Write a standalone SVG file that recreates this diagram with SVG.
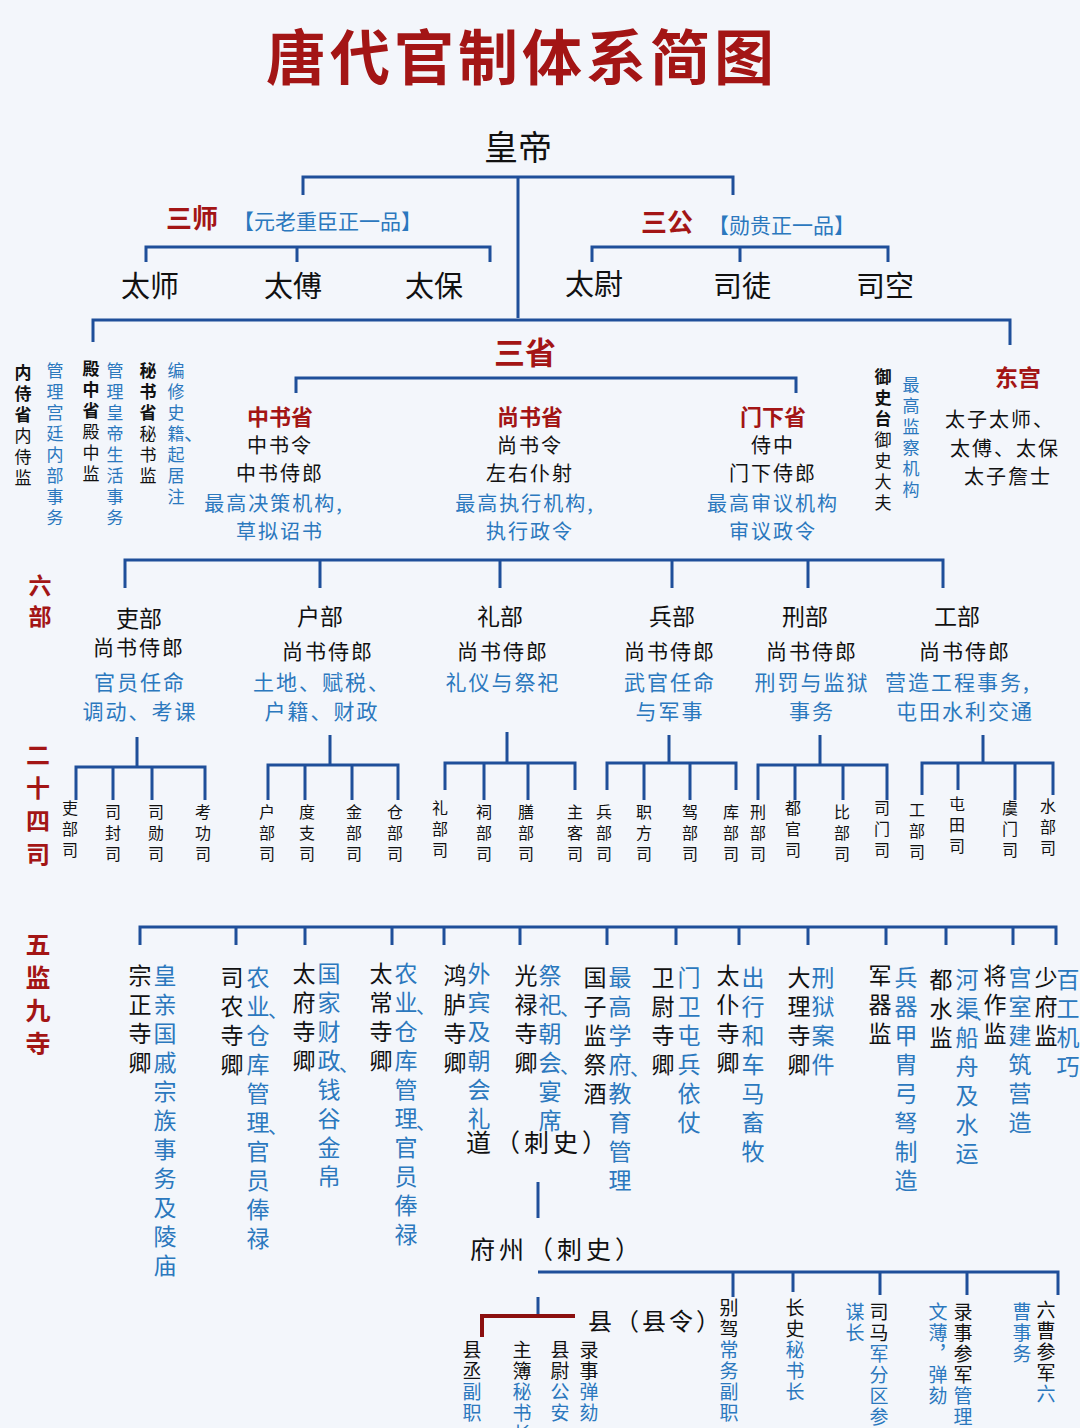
<svg xmlns="http://www.w3.org/2000/svg" width="1080" height="1428" viewBox="0 0 1080 1428">
<style>
text{font-family:"Noto Sans CJK SC","Noto Sans CJK TC",sans-serif;fill:#111}
.c{text-anchor:middle}
.r{fill:#a31515;font-weight:bold}
.bl{fill:#2b78be}
.v{writing-mode:vertical-rl;text-anchor:start}
.p{fill:#2b78be;font-size:20px}
.ln{stroke:#1f4f9a;stroke-width:3;fill:none}
.red{stroke:#8b0f0f;stroke-width:4;fill:none}
.s17{font-size:17px;letter-spacing:4px}
.s16{font-size:16px;letter-spacing:5px}
.s24{font-size:23px;letter-spacing:6px}
.s19{font-size:19px;letter-spacing:2px}
.t20{font-size:20px;letter-spacing:2px}
</style>
<rect width="1080" height="1428" fill="#f3f6fb"/>
<text class="c r" x="522" y="80" font-size="60" style="letter-spacing:4px">唐代官制体系简图</text>

<g id="connectors">
<path class="ln" d="M518 176V318M303 195V177H733V195"/>
<path class="ln" d="M146 262V247H490V262M297 247V262M592 262V247H888V262M740 247V262"/>
<path class="ln" d="M93 342V320H1010V345"/>
<path class="ln" d="M296 393V378H796V393"/>
<path class="ln" d="M125 588V560H943V588M320 560V588M500 560V588M672 560V588M808 560V588"/>
<path class="ln" d="M137 737V767M76 800V767H205V800M113 767V800M152 767V800"/>
<path class="ln" d="M330 735V765M268 800V765H398V800M305 765V800M352 765V800"/>
<path class="ln" d="M507 732V763M445 790V763H575V790M484 763V800M528 763V800"/>
<path class="ln" d="M669 735V763M607 790V763H736V790M644 763V800M690 763V800"/>
<path class="ln" d="M820 735V765M758 800V765H887V800M795 765V800M843 765V800"/>
<path class="ln" d="M983 735V763M922 795V763H1053V795M958 763V790M1015 763V800"/>
<path class="ln" d="M140 945V927H1056V945M236 927V945M305 927V945M392 927V945M444 927V945M520 927V945M607 927V945M676 927V945M739 927V945M808 927V945M886 927V945M946 927V945M1013 927V945"/>
<path class="ln" d="M538 1182V1218"/>
<path class="ln" stroke-width="4" d="M538 1272H1058V1295M733 1272V1297M793 1272V1292M880 1272V1295M967 1272V1295M538 1297V1316"/>
<path class="red" d="M482 1337V1316H575"/>
</g>

<g id="huangdi"><text class="c" x="518" y="160" font-size="34">皇帝</text></g>
<g id="sanshi"><text class="r" x="166" y="228" font-size="26">三师</text><text class="bl" x="233" y="229" font-size="21">【元老重臣正一品】</text></g>
<g id="sangong"><text class="r" x="641" y="232" font-size="26">三公</text><text class="bl" x="708" y="233" font-size="21">【勋贵正一品】</text></g>
<g id="gong3" font-size="29">
<text class="c" x="150" y="297">太师</text><text class="c" x="293" y="297">太傅</text><text class="c" x="434" y="297">太保</text>
<text class="c" x="594" y="295">太尉</text><text class="c" x="742" y="297">司徒</text><text class="c" x="885" y="297">司空</text>
</g>
<g id="sansheng"><text class="c r" x="525" y="364" font-size="31">三省</text></g>

<g id="neishi">
<text class="v s17" x="23" y="364"><tspan font-weight="bold">内侍省</tspan>内侍监</text>
<text class="v s17 bl" x="55" y="362">管理宫廷内部事务</text>
</g>
<g id="dianzhong">
<text class="v s17" x="91" y="360"><tspan font-weight="bold">殿中省</tspan>殿中监</text>
<text class="v s17 bl" x="115" y="362">管理皇帝生活事务</text>
</g>
<g id="mishu">
<text class="v s17" x="148" y="362"><tspan font-weight="bold">秘书省</tspan>秘书监</text>
<text class="v s17 bl" x="176" y="362">编修史籍</text><text class="p" x="184" y="441" font-size="17">、</text>
<text class="v s17 bl" x="176" y="446">起居注</text>
</g>

<g id="zhongshu">
<text class="c r" x="280" y="425" font-size="22">中书省</text>
<text class="c t20" x="280" y="453">中书令</text>
<text class="c t20" x="280" y="481">中书侍郎</text>
<text class="c bl t20" x="274" y="511">最高决策机构,</text>
<text class="c bl t20" x="280" y="539">草拟诏书</text>
</g>
<g id="shangshu">
<text class="c r" x="530" y="425" font-size="22">尚书省</text>
<text class="c t20" x="530" y="453">尚书令</text>
<text class="c t20" x="530" y="481">左右仆射</text>
<text class="c bl t20" x="525" y="511">最高执行机构,</text>
<text class="c bl t20" x="530" y="539">执行政令</text>
</g>
<g id="menxia">
<text class="c r" x="773" y="425" font-size="22">门下省</text>
<text class="c t20" x="773" y="453">侍中</text>
<text class="c t20" x="773" y="481">门下侍郎</text>
<text class="c bl t20" x="773" y="511">最高审议机构</text>
<text class="c bl t20" x="773" y="539">审议政令</text>
</g>

<g id="yushitai">
<text class="v s17" x="883" y="368"><tspan font-weight="bold">御史台</tspan>御史大夫</text>
<text class="v s17 bl" x="911" y="376">最高监察机构</text>
</g>
<g id="donggong">
<text class="c r" x="1018" y="386" font-size="23">东宫</text>
<text class="c t20" x="1000" y="427">太子太师、</text>
<text class="c t20" x="1005" y="456">太傅、太保</text>
<text class="c t20" x="1008" y="484">太子詹士</text>
</g>

<g id="liubu-label"><text class="v r" x="40" y="574" font-size="23" style="letter-spacing:8px">六部</text></g>
<g id="libu1" font-size="21">
<text class="c" x="139" y="627" font-size="23">吏部</text>
<text class="c" x="139" y="655" style="letter-spacing:2px">尚书侍郎</text>
<text class="c bl" x="140" y="690" style="letter-spacing:2px">官员任命</text>
<text class="c bl" x="140" y="719" style="letter-spacing:2px">调动、考课</text>
</g>
<g id="hubu" font-size="21">
<text class="c" x="320" y="625" font-size="23">户部</text>
<text class="c" x="328" y="659" style="letter-spacing:2px">尚书侍郎</text>
<text class="c bl" x="322" y="690" style="letter-spacing:2px">土地、赋税、</text>
<text class="c bl" x="322" y="719" style="letter-spacing:2px">户籍、财政</text>
</g>
<g id="libu2" font-size="21">
<text class="c" x="500" y="625" font-size="23">礼部</text>
<text class="c" x="503" y="659" style="letter-spacing:2px">尚书侍郎</text>
<text class="c bl" x="503" y="690" style="letter-spacing:2px">礼仪与祭祀</text>
</g>
<g id="bingbu" font-size="21">
<text class="c" x="672" y="625" font-size="23">兵部</text>
<text class="c" x="670" y="659" style="letter-spacing:2px">尚书侍郎</text>
<text class="c bl" x="670" y="690" style="letter-spacing:2px">武官任命</text>
<text class="c bl" x="670" y="719" style="letter-spacing:2px">与军事</text>
</g>
<g id="xingbu" font-size="21">
<text class="c" x="805" y="625" font-size="23">刑部</text>
<text class="c" x="812" y="659" style="letter-spacing:2px">尚书侍郎</text>
<text class="c bl" x="812" y="690" style="letter-spacing:2px">刑罚与监狱</text>
<text class="c bl" x="812" y="719" style="letter-spacing:2px">事务</text>
</g>
<g id="gongbu" font-size="21">
<text class="c" x="957" y="625" font-size="23">工部</text>
<text class="c" x="965" y="659" style="letter-spacing:2px">尚书侍郎</text>
<text class="c bl" x="958" y="690" style="letter-spacing:2px">营造工程事务,</text>
<text class="c bl" x="965" y="719" style="letter-spacing:2px">屯田水利交通</text>
</g>

<g id="ershisi-label"><text class="v r" x="38" y="743" font-size="24" style="letter-spacing:9px">二十四司</text></g>
<g id="si24">
<text class="v s16" x="70" y="800">吏部司</text><text class="v s16" x="113" y="804">司封司</text><text class="v s16" x="156" y="804">司勋司</text><text class="v s16" x="203" y="804">考功司</text>
<text class="v s16" x="267" y="804">户部司</text><text class="v s16" x="307" y="804">度支司</text><text class="v s16" x="354" y="804">金部司</text><text class="v s16" x="395" y="804">仓部司</text>
<text class="v s16" x="440" y="800">礼部司</text><text class="v s16" x="484" y="804">祠部司</text><text class="v s16" x="526" y="804">膳部司</text><text class="v s16" x="575" y="804">主客司</text>
<text class="v s16" x="604" y="804">兵部司</text><text class="v s16" x="644" y="804">职方司</text><text class="v s16" x="690" y="804">驾部司</text><text class="v s16" x="731" y="804">库部司</text>
<text class="v s16" x="758" y="804">刑部司</text><text class="v s16" x="793" y="800">都官司</text><text class="v s16" x="842" y="804">比部司</text><text class="v s16" x="882" y="800">司门司</text>
<text class="v s16" x="917" y="802">工部司</text><text class="v s16" x="957" y="796">屯田司</text><text class="v s16" x="1010" y="800">虞门司</text><text class="v s16" x="1048" y="798">水部司</text>
</g>

<g id="wujian-label"><text class="v r" x="38" y="932" font-size="25" style="letter-spacing:8px">五监九寺</text></g>
<g id="zongzheng"><text class="v s24" x="140" y="964">宗正寺卿</text><text class="v s24 bl" x="165" y="964">皇亲国戚宗族事务及陵庙</text></g>
<g id="sinong"><text class="v s24" x="232" y="966">司农寺卿</text>
<text class="v s24 bl" x="258" y="966">农业</text><text class="p" x="268" y="1018">、</text>
<text class="v s24 bl" x="258" y="1024">仓库管理</text><text class="p" x="268" y="1134">、</text>
<text class="v s24 bl" x="258" y="1140">官员俸禄</text></g>
<g id="taifu"><text class="v s24" x="304" y="962">太府寺卿</text>
<text class="v s24 bl" x="329" y="962">国家财政</text><text class="p" x="339" y="1072">、</text>
<text class="v s24 bl" x="329" y="1078">钱谷金帛</text></g>
<g id="taichang"><text class="v s24" x="381" y="962">太常寺卿</text>
<text class="v s24 bl" x="406" y="962">农业</text><text class="p" x="416" y="1014">、</text>
<text class="v s24 bl" x="406" y="1020">仓库管理</text><text class="p" x="416" y="1130">、</text>
<text class="v s24 bl" x="406" y="1136">官员俸禄</text></g>
<g id="honglu"><text class="v s24" x="455" y="964">鸿胪寺卿</text><text class="v s24 bl" x="479" y="962">外宾及朝会礼</text></g>
<g id="guanglu"><text class="v s24" x="526" y="964">光禄寺卿</text>
<text class="v s24 bl" x="550" y="964">祭祀</text><text class="p" x="560" y="1016">、</text>
<text class="v s24 bl" x="550" y="1022">朝会</text><text class="p" x="560" y="1074">、</text>
<text class="v s24 bl" x="550" y="1080">宴席</text></g>
<g id="guozijian"><text class="v s24" x="595" y="966">国子监祭酒</text>
<text class="v s24 bl" x="620" y="966">最高学府</text><text class="p" x="630" y="1076">、</text>
<text class="v s24 bl" x="620" y="1082">教育管理</text></g>
<g id="weiwei"><text class="v s24" x="663" y="966">卫尉寺卿</text><text class="v s24 bl" x="689" y="966">门卫屯兵依仗</text></g>
<g id="taipu"><text class="v s24" x="728" y="964">太仆寺卿</text><text class="v s24 bl" x="753" y="966">出行和车马畜牧</text></g>
<g id="dali"><text class="v s24" x="799" y="966">大理寺卿</text><text class="v s24 bl" x="823" y="966">刑狱案件</text></g>
<g id="junqi"><text class="v s24" x="880" y="964">军器监</text><text class="v s24 bl" x="906" y="966">兵器甲胄弓弩制造</text></g>
<g id="dushui"><text class="v s24" x="941" y="968">都水监</text>
<text class="v s24 bl" x="967" y="968">河渠</text><text class="p" x="974" y="1020">、</text>
<text class="v s24 bl" x="967" y="1026">船舟及水运</text></g>
<g id="jiangzuo"><text class="v s24" x="995" y="964">将作监</text><text class="v s24 bl" x="1020" y="966">宫室建筑营造</text></g>
<g id="shaofu"><text class="v s24" x="1046" y="966">少府监</text><text class="v s24 bl" x="1068" y="968">百工机巧</text></g>
<g id="dao"><text x="466" y="1152" font-size="25" style="letter-spacing:4px">道（刺史）</text></g>
<g id="fuzhou"><text x="470" y="1259" font-size="25" style="letter-spacing:4px">府州（刺史）</text></g>
<g id="xian"><text x="588" y="1330" font-size="24" style="letter-spacing:3px">县（县令）</text></g>
<g id="xianguan">
<text class="v s19" x="472" y="1340">县丞<tspan class="bl">副职</tspan></text>
<text class="v s19" x="522" y="1340">主簿<tspan class="bl">秘书长</tspan></text>
<text class="v s19" x="560" y="1340">县尉<tspan class="bl">公安</tspan></text>
<text class="v s19" x="589" y="1340">录事<tspan class="bl">弹劾</tspan></text>
</g>
<g id="zhouguan">
<text class="v s19" x="729" y="1298">别驾<tspan class="bl">常务副职</tspan></text>
<text class="v s19" x="795" y="1298">长史<tspan class="bl">秘书长</tspan></text>
<text class="v s19 bl" x="855" y="1302">谋长</text>
<text class="v s19" x="879" y="1302">司马<tspan class="bl">军分区参</tspan></text>
<text class="v s19 bl" x="938" y="1302">文薄，弹劾</text>
<text class="v s19" x="963" y="1302">录事参军<tspan class="bl">管理</tspan></text>
<text class="v s19 bl" x="1022" y="1302">曹事务</text>
<text class="v s19" x="1046" y="1300">六曹参军<tspan class="bl">六</tspan></text>
</g>
</svg>
